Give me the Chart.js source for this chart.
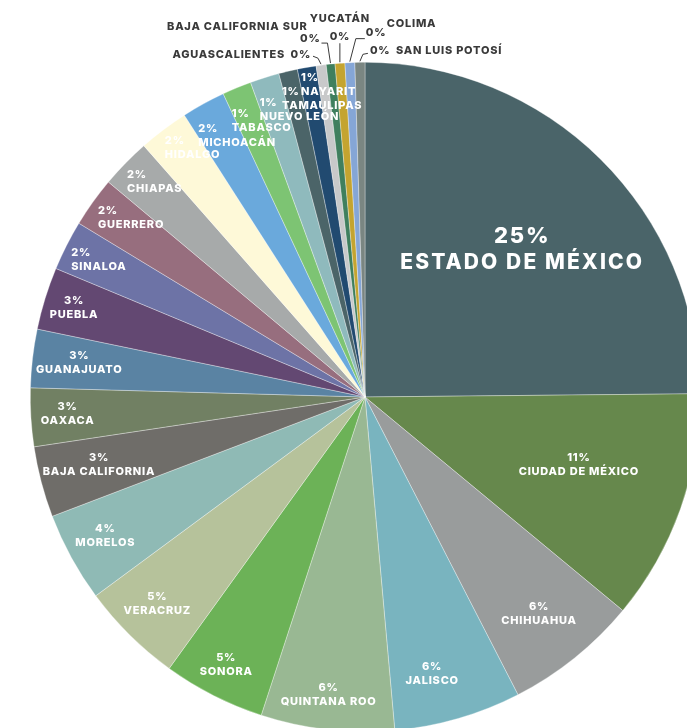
<!DOCTYPE html>
<html>
<head>
<meta charset="utf-8">
<script src="https://cdn.jsdelivr.net/npm/chart.js@4"></script>
<style>
  html, body { margin: 0; padding: 0; background: #fff; overflow: hidden; width: 687px; height: 728px; }
  #chart { display: block; }
</style>
</head>
<body>
<canvas id="chart" width="740" height="760"></canvas>
<script>
// states, clockwise from 12 o'clock
var states = [
  "ESTADO DE MÉXICO", "CIUDAD DE MÉXICO", "CHIHUAHUA", "JALISCO", "QUINTANA ROO",
  "SONORA", "VERACRUZ", "MORELOS", "BAJA CALIFORNIA", "OAXACA", "GUANAJUATO",
  "PUEBLA", "SINALOA", "GUERRERO", "CHIAPAS", "HIDALGO", "MICHOACÁN", "TABASCO",
  "NUEVO LEÓN", "TAMAULIPAS", "NAYARIT", "AGUASCALIENTES", "BAJA CALIFORNIA SUR",
  "YUCATÁN", "COLIMA", "SAN LUIS POTOSÍ"
];
// share of total (%)
var shares = [
  24.7, 11.1, 6.4, 6.1, 6.4,
  4.9, 4.9, 4.3, 3.4, 2.8, 2.8,
  3.0, 2.4, 2.4, 2.4, 2.4, 2.1, 1.4,
  1.4, 0.9, 0.9, 0.48, 0.42,
  0.47, 0.47, 0.48
];
var colors = [
  "#4a6469", "#66884c", "#999c9c", "#79b4bf", "#99b893",
  "#6cb257", "#b6c29b", "#8fbab5", "#6f6d69", "#718063", "#5a83a3",
  "#634872", "#6d73a6", "#976e7e", "#a7aaaa", "#fef9d8", "#6aa9dc", "#7dc473",
  "#8fbabd", "#4b6468", "#214a70", "#c8c9ca", "#3f7f5e",
  "#c4a430", "#85a6d6", "#7a8682"
];

var FONT = "Inter, 'Noto Sans', sans-serif";

// label placement: [radius factor, angle nudge in degrees, style]
var labelPlace = {
  "ESTADO DE MÉXICO": [0.645, 2, "big"],
  "CIUDAD DE MÉXICO": [0.67, -2, "center"],
  "CHIHUAHUA": [0.83, 0, "center"],
  "JALISCO": [0.85, 2.5, "center"],
  "QUINTANA ROO": [0.895, 0.5, "center"],
  "SONORA": [0.9, 0.5, "center"],
  "VERACRUZ": [0.875, 0.5, "center"],
  "MORELOS": [0.88, 0.5, "center"],
  "BAJA CALIFORNIA": [0.82, 0.5, "center"],
  "OAXACA": [0.89, 0.3, "center"],
  "GUANAJUATO": [0.86, 0.3, "center"],
  "PUEBLA": [0.91, 0, "center"],
  "SINALOA": [0.895, 0.4, "left"],
  "GUERRERO": [0.88, 1.8, "left"],
  "CHIAPAS": [0.9, 1.4, "left"],
  "HIDALGO": [0.905, 2.3, "left"],
  "MICHOACÁN": [0.87, 2.8, "left"],
  "TABASCO": [0.88, 2, "left"],
  "NUEVO LEÓN": [0.88, 4.6, "left"],
  "TAMAULIPAS": [0.9, 5.1, "left"],
  "NAYARIT": [0.94, 3.4, "left"]
};

// outside labels for the thin slices, offsets from the slice tip
var outsidePlace = {
  "AGUASCALIENTES": { pct: [-10, -10, "right"], name: [-36, -10, "right"], line: [[-8, -8], [-3, -6], [0, 0]] },
  "BAJA CALIFORNIA SUR": { pct: [-10, -24, "right"], name: [-23, -36, "right"], line: [[-9, -20], [-3, -20], [0, 0]] },
  "YUCATÁN": { pct: [0, -26, "center"], name: [0, -44, "center"], line: [[0, -19], [0, 0]] },
  "COLIMA": { pct: [16, -29, "left"], name: [37, -38, "left"], line: [[15, -23], [6, -23], [0, 0]] },
  "SAN LUIS POTOSÍ": { pct: [10, -11, "left"], name: [36, -11, "left"], line: [[8, -8], [3, -7], [0, 0]] }
};

function setFont(ctx, size, spacing) {
  ctx.font = "800 " + size + "px " + FONT;
  ctx.letterSpacing = (size * spacing).toFixed(2) + "px";
}

var sliceLabels = {
  id: "sliceLabels",
  afterDatasetsDraw: function (chart) {
    var ctx = chart.ctx;
    var meta = chart.getDatasetMeta(0);
    var total = shares.reduce(function (a, b) { return a + b; }, 0);
    ctx.save();
    ctx.textBaseline = "middle";
    meta.data.forEach(function (arc, i) {
      var p = arc.getProps(["x", "y", "startAngle", "endAngle", "outerRadius"], true);
      var name = states[i];
      var pct = Math.round(shares[i] / total * 100) + "%";
      var mid = (p.startAngle + p.endAngle) / 2;
      var place = labelPlace[name];
      if (place) {
        var a = mid + place[1] * Math.PI / 180;
        var cx = p.x + Math.cos(a) * p.outerRadius * place[0];
        var cy = p.y + Math.sin(a) * p.outerRadius * place[0];
        ctx.fillStyle = "#ffffff";
        if (place[2] === "big") {
          ctx.textAlign = "center";
          setFont(ctx, 22, 0.08);
          ctx.fillText(pct, cx, cy - 13);
          setFont(ctx, 21, 0.1);
          ctx.fillText(name, cx, cy + 14);
        } else if (place[2] === "center") {
          ctx.textAlign = "center";
          setFont(ctx, 11, 0.07);
          ctx.fillText(pct, cx, cy - 7);
          ctx.fillText(name, cx, cy + 7);
        } else {
          setFont(ctx, 11, 0.07);
          var w = Math.max(ctx.measureText(pct).width, ctx.measureText(name).width);
          ctx.textAlign = "left";
          ctx.fillText(pct, cx - w / 2, cy - 7);
          ctx.fillText(name, cx - w / 2, cy + 7);
        }
        return;
      }
      var out = outsidePlace[name];
      if (!out) return;
      var tx = p.x + Math.cos(mid) * (p.outerRadius + 1);
      var ty = p.y + Math.sin(mid) * (p.outerRadius + 1);
      ctx.strokeStyle = "#3a3a3a";
      ctx.lineWidth = 1;
      ctx.beginPath();
      out.line.forEach(function (pt, k) {
        if (k === 0) ctx.moveTo(tx + pt[0], ty + pt[1]);
        else ctx.lineTo(tx + pt[0], ty + pt[1]);
      });
      ctx.stroke();
      ctx.fillStyle = "#3a3a3a";
      setFont(ctx, 11, 0.07);
      ctx.textAlign = out.pct[2];
      ctx.fillText(pct, tx + out.pct[0], ty + out.pct[1]);
      ctx.textAlign = out.name[2];
      ctx.fillText(name, tx + out.name[0], ty + out.name[1]);
    });
    ctx.restore();
  }
};

new Chart(document.getElementById("chart"), {
  type: "pie",
  data: {
    labels: states,
    datasets: [{
      data: shares,
      backgroundColor: colors,
      borderColor: "rgba(255,255,255,0.55)",
      borderWidth: 0.6
    }]
  },
  options: {
    responsive: false,
    devicePixelRatio: 1,
    animation: false,
    layout: { padding: { left: 30, top: 62, right: 40, bottom: 28 } },
    plugins: {
      legend: { display: false },
      tooltip: { enabled: false }
    }
  },
  plugins: [sliceLabels]
});
</script>
</body>
</html>
